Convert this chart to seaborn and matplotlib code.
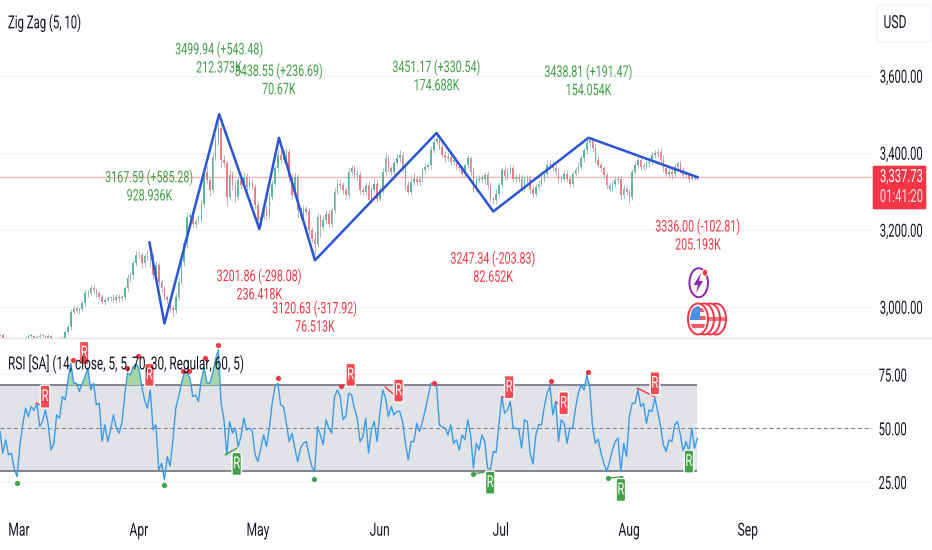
"""
plot.py
-------
Gold chart with Zig Zag pivots and an RSI pane underneath.
"""

import matplotlib
matplotlib.use("Agg")
import matplotlib.pyplot as plt
import numpy as np
import pandas as pd
import seaborn as sns
from matplotlib.patches import Ellipse, FancyBboxPatch, Polygon, Rectangle
from matplotlib.patheffects import AbstractPathEffect
from matplotlib.transforms import Affine2D

W, H = 932, 550
PANE_W = 872

# x axis is a bar index, two bars per trading day
closes = [
    2926, 2920, 2915, 2913, 2912, 2912, 2913, 2913, 2915, 2920,
    2924, 2924, 2920, 2922, 2925, 2924, 2920, 2924, 2917, 2917,
    2917, 2919, 2920, 2935, 2948, 2987, 2996, 2990, 2993, 3009,
    3035, 3036, 3048, 3043, 3035, 3026, 3013, 3017, 3022, 3024,
    3017, 3026, 3022, 3026, 3048, 3074, 3082, 3113, 3134, 3134,
    3113, 3132, 3128, 3130, 3082, 3108, 3065, 3048, 3026, 3017,
    2996, 2991, 3026, 3065, 3117, 3165, 3234, 3238, 3215, 3223,
    3229, 3268, 3351, 3329, 3303, 3390, 3433, 3463, 3381, 3372,
    3286, 3342, 3316, 3286, 3329,
    3316, 3338, 3312, 3325, 3312, 3264, 3225, 3234, 3255, 3235,
    3286, 3320, 3359, 3394, 3381, 3390, 3403, 3338, 3290, 3338,
    3251, 3234, 3255, 3247, 3199, 3177, 3164, 3234, 3208, 3225,
    3242, 3216, 3251, 3299, 3319, 3316, 3303, 3290, 3351, 3359,
    3342, 3342, 3303, 3299, 3316, 3277, 3303, 3320, 3281, 3303,
    3351, 3385, 3359, 3351, 3372, 3385, 3394, 3359, 3316, 3299,
    3325, 3333, 3325, 3333, 3355, 3364, 3368, 3407, 3429, 3437,
    3416, 3394, 3385, 3390, 3377, 3381, 3364, 3359, 3346, 3368, 3385,
    3351, 3307, 3329, 3333, 3333, 3342, 3316, 3281, 3277, 3294,
    3316, 3355, 3339, 3351, 3359, 3333, 3338, 3333, 3307, 3329,
    3333, 3307, 3294, 3312, 3320, 3333, 3345, 3368, 3371, 3359,
    3351, 3333, 3333, 3346, 3333, 3320, 3346, 3355, 3364, 3385,
    3407, 3424, 3433, 3411, 3381, 3368, 3359, 3342, 3316, 3307,
    3320, 3329, 3333, 3290, 3307, 3299, 3286, 3351, 3368, 3381,
    3364, 3364, 3372, 3377, 3394, 3398, 3403, 3381, 3359, 3346,
    3351, 3346, 3364, 3372, 3355, 3342, 3342, 3333, 3338, 3333, 3337.73,
]
wick_up = [
    4, 3, 2, 1, 2, 1, 2, 3, 2, 3,
    5, 4, 3, 5, 6, 4, 3, 5, 2, 3,
    2, 3, 4, 5, 8, 6, 9, 6, 5, 7,
    10, 8, 9, 12, 6, 5, 8, 6, 7, 5,
    9, 6, 8, 5, 7, 10, 9, 8, 12, 10,
    9, 8, 14, 11, 7, 10, 8, 6, 7, 5,
    6, 8, 9, 10, 12, 10, 11, 9, 13, 8,
    9, 12, 10, 14, 9, 12, 15, 18, 9, 12,
    8, 14, 10, 12, 9, 8, 11, 9, 12, 8,
    7, 10, 6, 9, 8, 12, 9, 10, 14, 12,
    16, 10, 9, 7, 11, 8, 9, 10, 6, 9,
    7, 18, 10, 8, 12, 9, 8, 7, 10, 13,
    12, 8, 9, 11, 8, 9, 12, 10, 8, 9,
    11, 9, 14, 12, 7, 10, 16, 8, 7, 9,
    12, 14, 9, 8, 10, 13, 16, 9, 7, 8,
    9, 6, 10, 8, 9, 7, 12, 10, 8, 14,
    9, 7, 10, 8, 6, 9, 7, 12, 8, 10,
    9, 6, 10, 8, 7, 12, 9, 8, 10, 9,
    12, 8, 7, 9, 10, 8, 9, 7, 6, 8,
    9, 10, 8, 12, 9, 7, 10, 8, 6, 9,
    8, 10, 7, 9, 12, 8, 6, 10, 9, 7,
    12, 10, 9, 6, 8, 7, 9, 10, 7, 8,
    9, 7, 8, 6, 9, 7, 10, 8, 9, 12,
    8, 9, 7, 10, 12, 9, 14, 8, 6, 7,
    9, 8, 7, 5, 4, 3, 3,
]
wick_down = [
    3, 2, 4, 3, 2, 3, 2, 4, 3, 2,
    4, 3, 5, 3, 4, 3, 5, 2, 3, 2,
    3, 2, 4, 6, 5, 9, 6, 7, 8, 6,
    7, 9, 6, 8, 10, 7, 5, 9, 6, 8,
    5, 7, 9, 6, 8, 7, 10, 9, 7, 8,
    12, 9, 7, 24, 10, 8, 12, 9, 8, 7,
    10, 18, 8, 9, 7, 10, 12, 9, 8, 11,
    7, 9, 12, 10, 15, 8, 9, 12, 18, 10,
    24, 9, 12, 14, 8, 10, 8, 12, 7, 9,
    10, 8, 12, 6, 9, 7, 8, 10, 9, 11,
    8, 9, 14, 12, 8, 20, 10, 8, 9, 12,
    8, 30, 9, 26, 8, 7, 10, 9, 8, 7,
    9, 10, 8, 7, 9, 8, 12, 10, 8, 9,
    12, 8, 10, 9, 7, 8, 9, 10, 9, 8,
    7, 9, 8, 10, 7, 9, 8, 10, 12, 8,
    9, 7, 10, 8, 7, 9, 8, 10, 7, 9,
    8, 10, 7, 9, 8, 7, 10, 9, 8, 7,
    10, 14, 9, 8, 10, 7, 9, 8, 10, 9,
    7, 8, 10, 9, 7, 8, 10, 14, 9, 7,
    8, 7, 9, 8, 10, 7, 8, 12, 9, 7,
    8, 10, 9, 7, 8, 7, 9, 10, 8, 7,
    9, 8, 10, 7, 9, 8, 7, 10, 9, 14,
    8, 9, 16, 8, 7, 9, 8, 10, 7, 9,
    8, 7, 10, 9, 8, 7, 12, 14, 10, 7,
    9, 8, 7, 8, 5, 3, 3,
]
rsi_values = [
    48.5, 38.4, 44.6, 37.6, 38.4, 31.4, 27.5, 41.5, 51.6, 59.3,
    55.4, 60.1, 58.2, 61.6, 50.8, 53.1, 58.5, 51.6, 39.9, 43.0,
    56.2, 54.7, 64.7, 63.2, 72.5, 80.2, 70.9, 70.9, 67.1, 70.9,
    74.0, 77.9, 67.8, 70.9, 60.9, 61.6, 43.8, 51.6, 43.8, 49.2,
    56.2, 50.0, 47.7, 52.3, 65.5, 75.6, 74.8, 78.7, 79.9, 77.9,
    69.4, 63.2, 59.3, 67.8, 49.2, 51.6, 30.6, 33.7, 26.0, 36.8,
    32.5, 44.6, 59.3, 64.7, 70.9, 75.6, 75.6, 73.3, 64.7, 65.5,
    62.4, 72.5, 77.9, 70.9, 70.9, 75.6, 81.8, 86.4, 61.6, 53.9,
    37.6, 53.1, 47.7, 50.0, 41.5,
    46.1, 54.7, 49.2, 50.0, 48.5, 37.6, 34.5, 40.7, 46.9, 41.5,
    50.0, 61.6, 69.4, 70.9, 60.9, 60.1, 52.3, 43.8, 47.7, 40.7,
    34.5, 40.7, 43.0, 43.8, 37.6, 32.2, 29.8, 50.8, 46.9, 42.3,
    53.9, 50.0, 47.7, 64.7, 67.8, 64.7, 53.9, 55.7, 66.3, 65.5,
    59.3, 54.7, 43.8, 45.8, 54.7, 38.4, 49.2, 53.1, 43.8, 57.0,
    67.8, 64.0, 55.4, 60.1, 56.2, 57.8, 57.8, 53.1, 43.0, 35.3,
    43.8, 43.8, 52.3, 48.5, 53.1, 58.5, 64.7, 70.9, 70.2, 69.4,
    51.6, 50.5, 50.0, 46.9, 51.6, 43.0, 44.6, 39.9, 46.9, 44.6,
    53.9, 46.9, 31.4,
    43.0, 39.9, 46.9, 43.8, 31.4, 30.9, 39.2, 38.7, 51.6, 64.7,
    57.0, 58.5, 62.4, 50.0, 50.0, 49.2, 40.7, 53.9, 53.1, 38.4,
    33.4, 46.9, 51.6, 51.6, 60.1, 66.3, 69.4, 56.2, 62.4, 43.8,
    53.9, 52.3, 43.0, 50.0, 50.0, 59.3, 66.3, 70.2, 67.8, 74.8,
    69.4, 50.8, 43.0, 44.9, 38.4, 33.7, 29.8, 34.5, 39.9, 43.8,
    45.4, 29.8, 43.0, 36.8, 55.4, 61.6, 61.6, 67.8, 60.1, 61.6,
    52.3, 58.5, 57.8, 64.0, 57.8, 50.8, 42.3, 39.2, 44.6, 43.8,
    51.6, 53.1, 46.9, 39.2, 43.8, 39.2, 50.0, 40.7, 45.4,
]

month_labels = ["Mar", "Apr", "May", "Jun", "Jul", "Aug", "Sep"]
month_bars = [6.7, 49.0, 91.0, 134.0, 176.7, 222.0, 263.8]

zigzag_bars = [52.7, 58.0, 77.3, 91.5, 98.4, 111.1, 154.0, 174.0, 207.6, 246.2]
zigzag_prices = [3167.59, 2956.46, 3499.94, 3201.86, 3438.55, 3120.63,
                 3451.17, 3247.34, 3438.81, 3336.00]

# text per pivot, and how many pixels above the pivot its centre sits
pivot_labels = ["3167.59 (+585.28)\n928.936K", "", "3499.94 (+543.48)\n212.373K",
                "3201.86 (-298.08)\n236.418K", "3438.55 (+236.69)\n70.67K",
                "3120.63 (-317.92)\n76.513K", "3451.17 (+330.54)\n174.688K",
                "3247.34 (-203.83)\n82.652K", "3438.81 (+191.47)\n154.054K",
                "3336.00 (-102.81)\n205.193K"]
label_lift = [56, 0, 56, -56, 58, -57, 57, -56, 57, -58]

last_price = 3337.73
price_ticks = [3000, 3200, 3400, 3600]
rsi_ticks = [25, 50, 75]

red_dot_bars = [25.6, 44.8, 48.7, 52.6, 64.4, 66.6, 72.3, 76.8, 98.1, 120.3, 153.1, 194.3, 207.3]
red_dot_rsi = [81.8, 78.0, 83.6, 70.6, 76.7, 76.7, 82.7, 88.7, 73.5, 69.8, 71.2, 72.1, 76.2]
green_dot_bars = [5.9, 57.8, 110.7, 167.0, 214.4, 219.0]
green_dot_rsi = [24.7, 23.5, 26.6, 28.6, 26.7, 26.9]

red_r_bars = [15.9, 29.7, 52.7, 123.7, 140.6, 179.6, 198.8, 231.0]
red_r_rsi = [64.7, 85.0, 74.8, 74.8, 67.5, 69.1, 61.6, 70.9]
green_r_bars = [83.5, 172.9, 219.0, 243.0]
green_r_rsi = [33.4, 24.7, 21.3, 34.5]

red_div_bars = [(12.7, 15.9), (135.8, 140.4), (177.0, 179.5), (196.1, 198.9), (224.7, 231.0)]
red_div_rsi = [(61.8, 59.5), (69.2, 64.1), (64.6, 64.1), (62.2, 59.4), (68.7, 64.6)]
green_div_bars = [(79.4, 83.6), (166.8, 172.8), (214.1, 219.0)]
green_div_rsi = [(37.6, 40.8), (28.7, 30.1), (26.9, 27.3)]

RED = "#f23645"
GREEN = "#43a047"
BLUE = "#2a55d5"
TEXT = "#131722"
SQUEEZE = 0.67  # the reference screenshot is squashed sideways
SCALE_SQUEEZE = 0.62


class Squeeze(AbstractPathEffect):
    """Narrow the glyphs of a text, keeping the given part of each line in place."""

    def __init__(self, anchor=0.0, factor=SQUEEZE):
        super().__init__()
        self.anchor = anchor
        self.factor = factor

    def draw_path(self, renderer, gc, tpath, affine, rgbFace=None):
        pivot = tpath.get_extents().x1 * self.anchor
        narrow = Affine2D().translate(-pivot, 0).scale(self.factor, 1).translate(pivot, 0)
        renderer.draw_path(gc, tpath, narrow + affine, rgbFace)


def pixel_text(fig, x, y, s, anchor=0.0, size=13, color=TEXT, zorder=20, factor=SQUEEZE):
    ha = {0.0: "left", 0.5: "center", 1.0: "right"}[anchor]
    return fig.text(x, H - y, s, transform=None, color=color, fontsize=size, ha=ha, va="center",
                    zorder=zorder, path_effects=[Squeeze(anchor, factor)])


def pixel_box(fig, cx, cy, w, h, color, radius=1.5, **kw):
    """Rounded box in image pixels, cy counted from the top."""
    box = FancyBboxPatch((cx - w / 2, H - cy - h / 2), w, h,
                         boxstyle=f"round,pad=0,rounding_size={radius}",
                         facecolor=color, transform=None, clip_on=False, **kw)
    fig.add_artist(box)
    return box


def draw_candles(ax, df):
    up = df["close"] >= df["open"]
    for mask, color in ((up, "#59b8a0"), (~up, "#ee7c86")):
        part = df[mask]
        ax.vlines(part["bar"], part["low"], part["high"], color="#a6abb3", lw=0.6, zorder=2)
        ax.bar(part["bar"], (part["close"] - part["open"]).abs().clip(lower=1.5),
               bottom=part[["open", "close"]].min(axis=1), width=0.55,
               color=color, linewidth=0, zorder=3)


def draw_price_pane(ax, df):
    draw_candles(ax, df)
    ax.axhline(last_price, color=RED, alpha=0.35, lw=1, zorder=1)
    zig = pd.DataFrame({"bar": zigzag_bars, "price": zigzag_prices})
    sns.lineplot(data=zig, x="bar", y="price", sort=False, estimator=None,
                 color=BLUE, lw=1.8, ax=ax, zorder=5)
    for bar, price, text, lift in zip(zigzag_bars, zigzag_prices, pivot_labels, label_lift):
        if text:
            ax.annotate(text, (bar, price), xytext=(0, lift), textcoords="offset pixels",
                        ha="center", va="center", fontsize=11.5, linespacing=1.2,
                        color=GREEN if lift > 0 else RED, zorder=6, annotation_clip=False,
                        path_effects=[Squeeze(0.5)])

    ax.set_xlim(0, PANE_W / 2.835)
    ax.set_ylim(2918.8, 3796.6)
    ax.set_yticks(price_ticks)
    ax.set_yticklabels([f"{t:,.2f}" for t in price_ticks])
    ax.set_xticks([])
    ax.grid(axis="y", color="#f0f3fa", lw=1)


def draw_rsi_pane(ax, df):
    last_bar = df["bar"].iloc[-1]
    ax.axhspan(30, 70, xmax=last_bar / (PANE_W / 2.835), color="#e2e3e6", lw=0, zorder=1)
    ax.hlines([30, 70], 0, last_bar, color="#787b86", lw=1.3, zorder=2)
    ax.axhline(50, color="#787b86", lw=0.7, ls=(0, (4, 3)), zorder=2)
    ax.fill_between(df["bar"], 70, df["rsi"], where=df["rsi"] > 70, interpolate=True,
                    color="#a5d6a7", lw=0, zorder=3)
    sns.lineplot(data=df, x="bar", y="rsi", estimator=None, color="#3a9be8", lw=1.0, ax=ax, zorder=4)

    for bars, vals, color in ((red_div_bars, red_div_rsi, RED), (green_div_bars, green_div_rsi, GREEN)):
        for xs, ys in zip(bars, vals):
            ax.plot(xs, ys, color=color, lw=1.0, zorder=5)

    sns.scatterplot(x=red_dot_bars, y=red_dot_rsi, color=RED, s=14, linewidth=0, ax=ax, zorder=6)
    sns.scatterplot(x=green_dot_bars, y=green_dot_rsi, color=GREEN, s=14, linewidth=0, ax=ax, zorder=6)

    ax.set_xlim(0, PANE_W / 2.835)
    ax.set_ylim(14.3, 91.5)
    ax.set_yticks(rsi_ticks)
    ax.set_yticklabels([f"{t:.2f}" for t in rsi_ticks])
    ax.set_xticks(month_bars)
    ax.set_xticklabels(month_labels)
    ax.grid(axis="y", color="#f0f3fa", lw=1)

    # R tags are sized in pixels, so they need the axes placed first
    for bars, vals, color in ((red_r_bars, red_r_rsi, "#f44850"), (green_r_bars, green_r_rsi, "#43a047")):
        for bar, val in zip(bars, vals):
            px, py = ax.transData.transform((bar, val))
            pixel_box(ax.figure, px, H - py, 9.4, 23, color, zorder=8)
            pixel_text(ax.figure, px, H - py, "R", anchor=0.5, size=12, color="white", zorder=9)


def draw_side_labels(fig):
    pixel_box(fig, 899.5, 187.5, 55, 45, RED, radius=2, zorder=8)
    pixel_text(fig, 923, 177, f"{last_price:,.2f}", anchor=1.0, color="white", factor=SCALE_SQUEEZE)
    pixel_text(fig, 923, 197, "01:41:20", anchor=1.0, color="#fde0e3", factor=SCALE_SQUEEZE)
    pixel_box(fig, 904, 23.5, 54, 37, "white", radius=3, edgecolor="#f0f3fa", lw=1, zorder=8)
    pixel_text(fig, 883.5, 23, "USD")
    pixel_text(fig, 8, 23, "Zig Zag (5, 10)", factor=0.63)
    pixel_text(fig, 8, 364, "RSI [SA] (14, close, 5, 5, 70, 30, Regular, 60, 5)", factor=0.655)


def draw_icons(fig):
    def add(patch, clip=None):
        patch.set_transform(None)
        fig.add_artist(patch)
        patch.set_clip_on(clip is not None)
        if clip is not None:
            patch.set_clip_path(clip)
        return patch

    purple = "#8e24aa"
    add(Ellipse((698.7, H - 282.7), 18.5, 29, facecolor="white", edgecolor=purple, lw=1.4))
    add(Polygon([(701, H - 273), (693.5, H - 285), (698, H - 285), (696, H - 293),
                 (703, H - 281), (699, H - 281)], facecolor=purple, edgecolor="none"))
    add(Ellipse((705, H - 272.7), 5, 7, facecolor=RED, edgecolor="white", lw=0.6))

    for cx in (716, 710, 704):
        add(Ellipse((cx, H - 319), 20, 31, facecolor="white", edgecolor=RED, lw=1.4))
        add(Rectangle((cx + 4, H - 321), 5, 4, facecolor="#f4757e", edgecolor="none"))
    add(Ellipse((698, H - 319), 20, 31, facecolor="white", edgecolor=RED, lw=1.4))
    face = add(Ellipse((698, H - 319), 15.5, 25.5, facecolor="white", edgecolor="none"))
    for top in (308, 316, 324):
        add(Rectangle((690, H - top - 4), 16, 4, facecolor="#f05a63", edgecolor="none"), clip=face)
    add(Rectangle((690, H - 320), 10, 14, facecolor="#4a90e2", edgecolor="none"), clip=face)


def style_ticks(ax, pad):
    ax.set_xlabel("")
    ax.set_ylabel("")
    ax.yaxis.tick_right()
    ax.tick_params(axis="y", length=0, pad=pad, labelsize=13, labelcolor=TEXT)
    ax.tick_params(axis="x", length=0, pad=12, labelsize=13, labelcolor=TEXT)
    ax.set_axisbelow(True)
    for label in ax.get_yticklabels():
        label.set_ha("right")
        label.set_path_effects([Squeeze(1.0, SCALE_SQUEEZE)])
    for label in ax.get_xticklabels():
        label.set_path_effects([Squeeze(0.5)])


def main():
    sns.set_theme(style="white", rc={"axes.spines.left": False, "axes.spines.right": False,
                                     "axes.spines.top": False, "axes.spines.bottom": False})
    plt.rcParams["font.family"] = ["Roboto", "DejaVu Sans"]
    plt.rcParams["text.color"] = TEXT

    closes_arr = np.array(closes, dtype=float)
    opens = np.r_[closes_arr[0], closes_arr[:-1]]
    df = pd.DataFrame({"bar": np.arange(len(closes_arr)), "open": opens, "close": closes_arr,
                       "rsi": rsi_values})
    df["high"] = df[["open", "close"]].max(axis=1) + wick_up
    df["low"] = df[["open", "close"]].min(axis=1) - wick_down

    fig = plt.figure(figsize=(W / 100, H / 100), dpi=100, facecolor="white")
    ax_price = fig.add_axes([0, (H - 338) / H, PANE_W / W, 338 / H])
    ax_rsi = fig.add_axes([0, (H - 505) / H, PANE_W / W, 166 / H])

    draw_price_pane(ax_price, df)
    draw_rsi_pane(ax_rsi, df)
    # labels end at x=923 on the price scale and x=907 on the RSI scale
    style_ticks(ax_price, pad=(923 - PANE_W) * 0.72)
    style_ticks(ax_rsi, pad=(907 - PANE_W) * 0.72)

    fig.add_artist(plt.Line2D([0, 1], [(H - 338) / H] * 2, color="#e0e3eb", lw=1))
    draw_side_labels(fig)
    draw_icons(fig)

    fig.savefig("out.png", dpi=100)
    plt.close(fig)


if __name__ == "__main__":
    main()
